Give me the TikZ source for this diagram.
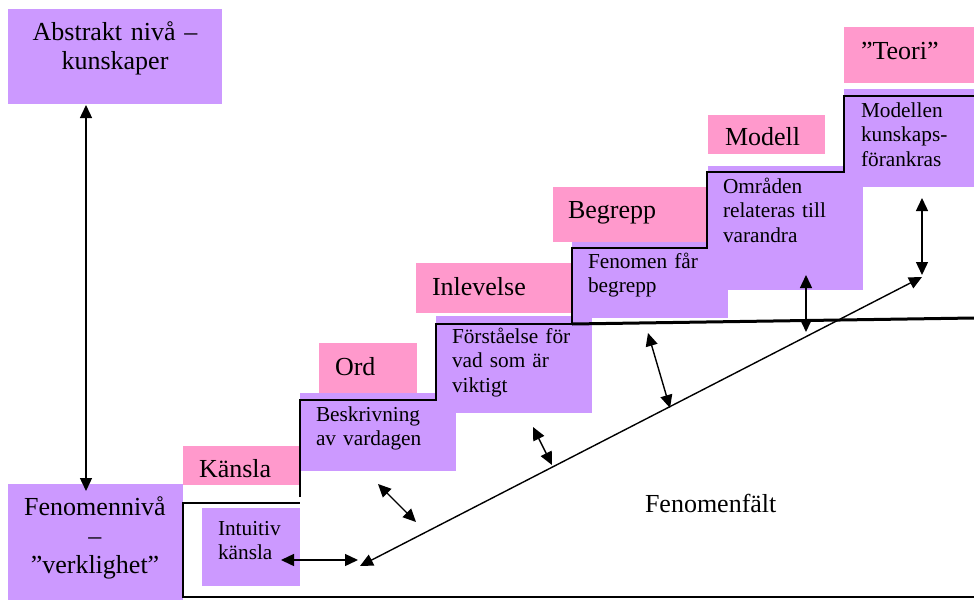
\documentclass[tikz,border=0pt]{standalone}
\usepackage{fontspec}
\setmainfont{Liberation Serif}
\usetikzlibrary{arrows.meta}
\definecolor{lilac}{HTML}{CC99FF}
\definecolor{rosa}{HTML}{FF99CC}
\begin{document}
\begin{tikzpicture}[x=1pt,y=-1pt,
  box/.style={inner sep=0pt, outer sep=0pt, anchor=north west, draw=none},
  lilacbox/.style={box, fill=lilac},
  rosabox/.style={box, fill=rosa},
  big/.style={font=\fontsize{26}{29}\selectfont},
  small/.style={font=\fontsize{21.3}{24.8}\selectfont},
  txt/.style={inner sep=0pt, outer sep=0pt, anchor=base west, align=left, text width=#1},
  stair/.style={line width=1.7pt},
  thickline/.style={line width=3pt},
  dbl/.style={line width=1.4pt, {Triangle[length=13pt,width=12pt]}-{Triangle[length=13pt,width=12pt]}},
]
\useasboundingbox (0,0) rectangle (974,605);
\fill[white] (0,0) rectangle (974,605);

% pink label boxes
\node[rosabox, minimum width=117pt, minimum height=39pt] (kansB) at (183,446) {};
\node[rosabox, minimum width=98pt, minimum height=50pt] (ordB) at (319,343) {};
\node[rosabox, minimum width=156pt, minimum height=50pt] (inlB) at (416,263) {};
\node[rosabox, minimum width=154pt, minimum height=55pt] (begB) at (553,187) {};
\node[rosabox, minimum width=117pt, minimum height=39pt] (modB) at (708,115) {};
\node[rosabox, minimum width=130pt, minimum height=56pt] (teoB) at (844,27) {};

% lilac boxes
\node[lilacbox, minimum width=214pt, minimum height=95pt] (abstr) at (8,9) {};
\node[lilacbox, minimum width=175pt, minimum height=116pt] (fenniv) at (8,484) {};
\node[lilacbox, minimum width=98pt, minimum height=78pt] (intB) at (202,508) {};
\node[lilacbox, minimum width=156pt, minimum height=78pt] (beskB) at (300,393) {};
\node[lilacbox, minimum width=156pt, minimum height=97pt] (forsB) at (436,316) {};
\node[lilacbox, minimum width=156pt, minimum height=76pt] (fenB) at (572,242) {};
\node[lilacbox, minimum width=155pt, minimum height=124pt] (omrB) at (708,166) {};
\node[lilacbox, minimum width=130pt, minimum height=98pt] (modlB) at (844,89) {};

% staircase
\draw[stair] (183,598) -- (183,503) -- (300,503);
\draw[stair] (300,497) -- (300,400) -- (436,400) -- (436,324) -- (572,324)
  -- (572,248) -- (707,248) -- (707,172) -- (844,172) -- (844,96) -- (974,96);
\draw[thickline] (572,324) -- (974,318);
\draw[line width=1.2pt] (183,597) -- (974,597);

% texts
\node[txt=214pt, align=center, anchor=base, big] (abstrT) at (115,40) {Abstrakt nivå –\\kunskaper};
\node[txt=175pt, align=center, anchor=base, big] (fennivT) at (95,515) {Fenomennivå\\–\\”verklighet”};
\node[txt=150pt, big] (kansT) at (199,477) {Känsla};
\node[txt=150pt, small] (intT) at (218,535) {Intuitiv\\känsla};
\node[txt=150pt, big] (ordT) at (335,375) {Ord};
\node[txt=150pt, small] (beskT) at (316,421) {Beskrivning\\av vardagen};
\node[txt=150pt, big] (inlT) at (432,295) {Inlevelse};
\node[txt=150pt, small] (forsT) at (452,343) {Förståelse för\\vad som är\\viktigt};
\node[txt=150pt, big] (begT) at (568,218) {Begrepp};
\node[txt=150pt, small] (fenT) at (588,268) {Fenomen får\\begrepp};
\node[txt=150pt, big] (modT) at (725,145) {Modell};
\node[txt=150pt, small] (omrT) at (723,193) {Områden\\relateras till\\varandra};
\node[txt=150pt, big] (teoT) at (861,59) {”Teori”};
\node[txt=150pt, small] (modlT) at (861,117) {Modellen\\kunskaps-\\förankras};
\node[txt=200pt, big] (fenfT) at (645,512) {Fenomenfält};

% arrows
\coordinate (v1a) at (86,105);  \coordinate (v1b) at (86,491);
\coordinate (h1a) at (281,560); \coordinate (h1b) at (358,560);
\coordinate (dga) at (360,566); \coordinate (dgb) at (922,277);
\coordinate (v2a) at (922,198); \coordinate (v2b) at (922,275);
\coordinate (v3a) at (806,275); \coordinate (v3b) at (806,332);
\coordinate (s1a) at (648,333); \coordinate (s1b) at (670,408);
\coordinate (s2a) at (533,427); \coordinate (s2b) at (552,465);
\coordinate (s3a) at (378,484); \coordinate (s3b) at (416,522);
\draw[dbl] (v1a) -- (v1b);
\draw[dbl] (h1a) -- (h1b);
\draw[dbl] (dga) -- (dgb);
\draw[dbl] (v2a) -- (v2b);
\draw[dbl] (v3a) -- (v3b);
\draw[dbl] (s1a) -- (s1b);
\draw[dbl] (s2a) -- (s2b);
\draw[dbl] (s3a) -- (s3b);
\end{tikzpicture}
\end{document}
